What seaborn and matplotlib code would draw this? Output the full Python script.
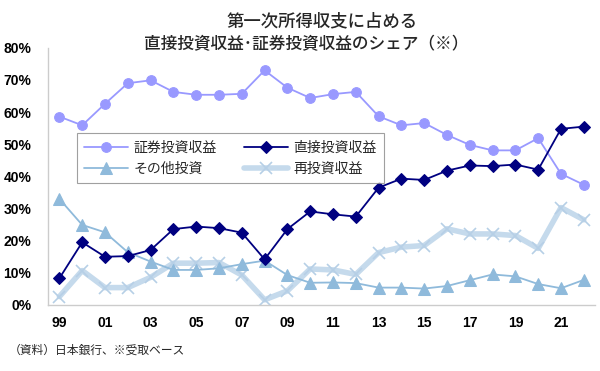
import pandas as pd
import numpy as np
import matplotlib.pyplot as plt
import seaborn as sns

# Data (share of primary income, %)
years = list(range(1999, 2023))
tick_labels = ['99', '01', '03', '05', '07', '09', '11', '13', '15', '17', '19', '21']

portfolio = [58.6, 55.9, 62.6, 69.0, 69.9, 66.3, 65.4, 65.4, 65.7, 73.0, 67.6, 64.4,
             65.6, 66.3, 58.7, 55.9, 56.6, 52.9, 49.8, 48.1, 48.1, 51.9, 40.8, 37.4]
direct = [8.3, 19.5, 15.0, 15.2, 17.1, 23.6, 24.4, 23.9, 22.5, 14.2, 23.6, 29.1,
          28.2, 27.5, 36.5, 39.3, 38.9, 41.8, 43.4, 43.2, 43.7, 42.1, 54.8, 55.5]
other = [33.0, 24.9, 22.6, 16.4, 13.5, 10.9, 10.9, 11.4, 12.7, 13.8, 9.3, 6.9,
         7.0, 6.8, 5.4, 5.4, 5.1, 5.9, 7.7, 9.5, 8.9, 6.5, 5.2, 7.8]
reinvested = [2.6, 10.7, 5.4, 5.4, 8.6, 13.0, 13.0, 13.2, 9.3, 1.6, 4.4, 11.2,
              10.9, 9.5, 16.3, 18.0, 18.5, 23.7, 22.1, 22.1, 21.6, 17.6, 30.3, 26.5]

df = pd.DataFrame({
    'idx': np.arange(len(years)),
    '証券投資収益': np.array(portfolio) / 100,
    '直接投資収益': np.array(direct) / 100,
    'その他投資': np.array(other) / 100,
    '再投資収益': np.array(reinvested) / 100,
})

sns.set_theme(style="white")
plt.rcParams['font.family'] = ['Noto Sans CJK JP', 'DejaVu Sans']

fig = plt.figure(figsize=(6, 3.71), dpi=100)
ax = fig.add_axes([0.08, 0.178, 0.912, 0.693])

# drawn in back-to-front order
sns.lineplot(data=df, x='idx', y='再投資収益', ax=ax, color='#C5DAEC', lw=4,
             marker='x', markersize=9, markeredgewidth=1.2, markeredgecolor='#B6CFE6',
             label='再投資収益')
sns.lineplot(data=df, x='idx', y='その他投資', ax=ax, color='#8FBADB', lw=1.3,
             marker='^', markersize=8, markeredgecolor='#8FBADB', label='その他投資')
sns.lineplot(data=df, x='idx', y='証券投資収益', ax=ax, color='#9999FF', lw=1.3,
             marker='o', markersize=7, markeredgecolor='#9999FF', label='証券投資収益')
sns.lineplot(data=df, x='idx', y='直接投資収益', ax=ax, color='#000080', lw=1.3,
             marker='D', markersize=6, markeredgecolor='#000080', label='直接投資収益')

ax.set_xlim(-0.5, len(years) - 0.5)
ax.set_ylim(0, 0.8)
ax.set_xlabel('')
ax.set_ylabel('')

ax.set_yticks(np.arange(0, 0.81, 0.1))
ax.set_yticklabels([f'{int(round(v * 100))}%' for v in np.arange(0, 0.81, 0.1)],
                   fontsize=10, fontweight='bold', family='Liberation Sans')
ax.set_xticks(np.arange(0, len(years), 2))
ax.set_xticklabels(tick_labels, fontsize=10, fontweight='bold', family='Liberation Sans')
ax.set_xticks(np.arange(1.5, len(years) - 1, 2), minor=True)
ax.tick_params(axis='x', which='major', length=0, pad=8, colors='black')
ax.tick_params(axis='x', which='minor', length=4, width=0.8, color='#BBBBBB', direction='out')
ax.tick_params(axis='y', length=0, pad=12, colors='black')

for side in ['top', 'right']:
    ax.spines[side].set_visible(False)
for side in ['left', 'bottom']:
    ax.spines[side].set_color('#CCCCCC')
    ax.spines[side].set_linewidth(1)
ax.grid(False)

handles, labels = ax.get_legend_handles_labels()
order = ['証券投資収益', 'その他投資', '直接投資収益', '再投資収益']
h = [handles[labels.index(o)] for o in order]
leg = ax.legend(h, order, ncol=2, loc='upper left', bbox_to_anchor=(0.053, 0.667),
                borderaxespad=0, frameon=True, fancybox=False, fontsize=10, columnspacing=1.9,
                handlelength=3.2, handletextpad=0.4, borderpad=0.5, labelspacing=0.55)
leg.get_frame().set_edgecolor('#888888')
leg.get_frame().set_linewidth(0.8)

fig.text(0.537, 0.967, '第一次所得収支に占める', ha='center', va='top', fontsize=12.5, fontweight='medium')
fig.text(0.51, 0.905, '直接投資収益･証券投資収益のシェア（※）', ha='center', va='top', fontsize=12,
         fontweight='medium')
fig.text(0.015, 0.055, '（資料）日本銀行、※受取ベース', ha='left', va='center', fontsize=8.5)

plt.savefig('out.png', dpi=100)
plt.close()
